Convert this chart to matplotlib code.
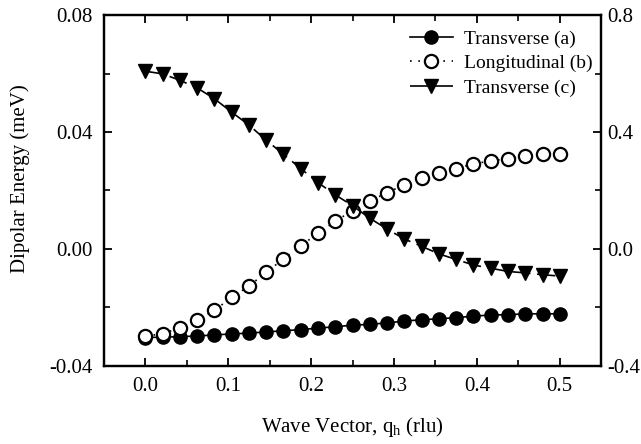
import matplotlib
matplotlib.use("Agg")
import matplotlib.pyplot as plt
from matplotlib.ticker import MultipleLocator, FormatStrFormatter

plt.rcParams['font.family'] = ['Liberation Serif', 'DejaVu Serif']
plt.rcParams['mathtext.fontset'] = 'custom'
plt.rcParams['mathtext.rm'] = 'Liberation Serif'
plt.rcParams['mathtext.it'] = 'Liberation Serif'

# wave vector q_h (rlu)
q = [0.0, 0.0208, 0.0417, 0.0625, 0.0833, 0.1042, 0.125, 0.1458, 0.1667,
     0.1875, 0.2083, 0.2292, 0.25, 0.2708, 0.2917, 0.3125, 0.3333, 0.3542,
     0.375, 0.3958, 0.4167, 0.4375, 0.4583, 0.4792, 0.5]

# dipolar energies (meV)
transverse_a = [-0.0303, -0.0302, -0.0300, -0.0298, -0.0294, -0.0291, -0.0288,
                -0.0284, -0.0280, -0.0276, -0.0271, -0.0266, -0.0261, -0.0258,
                -0.0253, -0.0247, -0.0242, -0.0239, -0.0235, -0.0230, -0.0226,
                -0.0225, -0.0222, -0.0222, -0.0222]
longitudinal_b = [-0.0299, -0.0290, -0.0270, -0.0244, -0.0210, -0.0166, -0.0127,
                  -0.0080, -0.0034, 0.0011, 0.0053, 0.0095, 0.0131, 0.0163,
                  0.0193, 0.0219, 0.0241, 0.0261, 0.0275, 0.0291, 0.0301,
                  0.0309, 0.0318, 0.0324, 0.0326]
transverse_c = [0.0608, 0.0599, 0.0577, 0.0551, 0.0514, 0.0468, 0.0424, 0.0372,
                0.0324, 0.0275, 0.0227, 0.0185, 0.0148, 0.0105, 0.0068, 0.0034,
                0.0009, -0.0017, -0.0036, -0.0055, -0.0066, -0.0077, -0.0082,
                -0.0088, -0.0093]

labels = ['Transverse (a)', 'Longitudinal (b)', 'Transverse (c)']

fig = plt.figure(figsize=(6.41, 4.44), dpi=100)
ax = fig.add_axes([0.162, 0.176, 0.776, 0.79])

ms = 9.5
ax.plot(q, transverse_a, '-', color='black', lw=1.2, marker='o', ms=ms,
        mfc='black', mec='black', label=labels[0], zorder=3)
ax.plot(q, longitudinal_b, color='black', lw=1.2, dashes=(1, 4), marker='o',
        ms=ms, mfc='white', mec='black', mew=1.6, label=labels[1], zorder=4)
ax.plot(q, transverse_c, color='black', lw=1.2, dashes=(11, 4),
        marker='v', ms=ms + 0.5, mfc='black', mec='black', label=labels[2],
        zorder=5)

ax.set_xlim(-0.05, 0.55)
ax.set_ylim(-0.04, 0.08)
ax.xaxis.set_major_locator(MultipleLocator(0.1))
ax.xaxis.set_minor_locator(MultipleLocator(0.05))
ax.yaxis.set_major_locator(MultipleLocator(0.04))
ax.yaxis.set_minor_locator(MultipleLocator(0.02))
ax.xaxis.set_major_formatter(FormatStrFormatter('%.1f'))
ax.yaxis.set_major_formatter(FormatStrFormatter('%.2f'))

ax2 = ax.twinx()
ax2.set_ylim(-0.4, 0.8)
ax2.yaxis.set_major_locator(MultipleLocator(0.4))
ax2.yaxis.set_minor_locator(MultipleLocator(0.2))
ax2.yaxis.set_major_formatter(FormatStrFormatter('%.1f'))

for a in (ax, ax2):
    for s in a.spines.values():
        s.set_linewidth(1.6)
    a.tick_params(which='major', direction='in', length=6, width=1.3,
                  labelsize=15, pad=8)
    a.tick_params(which='minor', direction='in', length=4, width=1.2)
ax.tick_params(which='both', top=True)
ax2.tick_params(axis='y', which='major', pad=4)

ax.set_xlabel('Wave Vector, q$_\\mathregular{h}$ (rlu)', fontsize=15, labelpad=14)
ax.set_ylabel('Dipolar Energy (meV)', fontsize=15)
ax.yaxis.set_label_coords(-0.148, 0.535)

leg = ax.legend(loc='upper left', bbox_to_anchor=(0.615, 0.958), frameon=False,
                fontsize=14, handlelength=2.2, handletextpad=0.6,
                labelspacing=0.36, borderpad=0, borderaxespad=0)

fig.savefig('out.png', dpi=100)
